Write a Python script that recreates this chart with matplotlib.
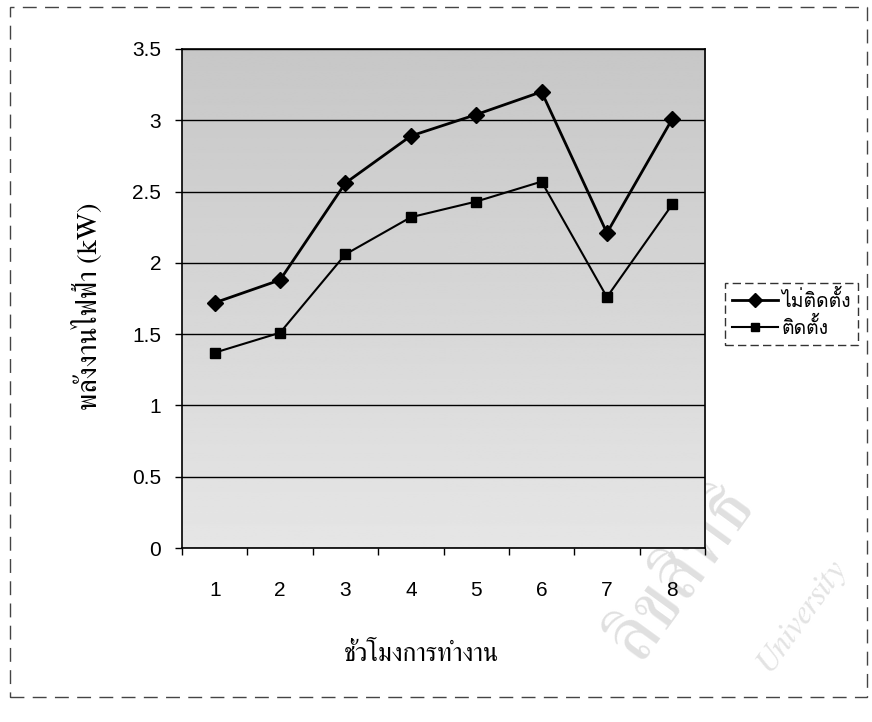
import matplotlib
matplotlib.use("Agg")
import matplotlib.pyplot as plt
import numpy as np
from matplotlib import font_manager
from matplotlib.ft2font import FT2Font
from matplotlib.patches import Rectangle

# ---- data -------------------------------------------------------------
hours = [1, 2, 3, 4, 5, 6, 7, 8]
power_without = [1.72, 1.88, 2.56, 2.89, 3.04, 3.20, 2.21, 3.01]   # ไม่ติดตั้ง
power_with = [1.37, 1.51, 2.06, 2.32, 2.43, 2.57, 1.76, 2.41]      # ติดตั้ง
series_labels = ["ไม่ติดตั้ง", "ติดตั้ง"]
x_title = "ชั่วโมงการทำงาน"
y_title = "พลังงานไฟฟ้า (kW)"
y_ticks = [0, 0.5, 1, 1.5, 2, 2.5, 3, 3.5]
y_tick_labels = ["0", "0.5", "1", "1.5", "2", "2.5", "3", "3.5"]


# ---- fonts: find installed faces that cover Thai ----------------------
def thai_fonts():
    found = []
    seen = set()
    for f in font_manager.fontManager.ttflist:
        if f.name in seen:
            continue
        try:
            cmap = FT2Font(f.fname).get_charmap()
        except Exception:
            continue
        if all(c in cmap for c in (0x0E17, 0x0E31, 0x0E49, 0x0E4C)):
            found.append(f.name)
            seen.add(f.name)
    return found


def pick(names, keys):
    out = []
    for k in keys:
        out += [n for n in names if k in n and n not in out]
    return out


thai = thai_fonts()
title_family = (pick(thai, ["Norasi", "Kinnari", "Laksaman", "Serif"]) or thai) + ["DejaVu Sans"]
legend_family = (pick(thai, ["Loma", "Garuda", "Umpush", "Sans"]) or thai) + ["DejaVu Sans"]
num_family = ["Liberation Sans", "DejaVu Sans"]

plt.rcParams["font.family"] = num_family

# ---- figure -----------------------------------------------------------
W, H, DPI = 872, 722, 100
fig = plt.figure(figsize=(W / DPI, H / DPI), dpi=DPI)
fig.patch.set_facecolor("white")

# faint copyright watermark in the lower right corner (drawn first, underneath)
fig.text(682 / W, 1 - 572 / H, "ลิขสิทธิ์", rotation=54, ha="center", va="center",
         fontsize=56, color="#e0e0e0", family=title_family, zorder=-5)
fig.text(800 / W, 1 - 615 / H, "University", rotation=54, ha="center", va="center",
         fontsize=24, color="#e3e3e3", style="italic", family=title_family, zorder=-5)

left, right, top, bottom = 182, 705, 49, 548
ax = fig.add_axes([left / W, 1 - bottom / H, (right - left) / W, (bottom - top) / H])
ax.patch.set_alpha(0)

# grey plot-area fill, darker towards the top
grad = np.linspace(0.78, 0.90, 256).reshape(-1, 1)
ax.imshow(grad, cmap="gray", vmin=0, vmax=1, aspect="auto",
          extent=[0, 1, 0, 1], transform=ax.transAxes, zorder=0)

ax.plot(hours, power_without, color="black", lw=2.0, marker="D", ms=8,
        mfc="black", mec="black", label=series_labels[0], zorder=3)
ax.plot(hours, power_with, color="black", lw=1.5, marker="s", ms=7,
        mfc="black", mec="black", label=series_labels[1], zorder=3)

ax.set_xlim(0.5, 8.5)
ax.set_ylim(0, 3.5)
ax.set_yticks(y_ticks)
ax.set_yticklabels(y_tick_labels)
ax.grid(True, axis="y", color="black", lw=1.0, zorder=1)
ax.set_axisbelow(False)

# category ticks sit between categories, labels centred on them
ax.set_xticks(np.arange(0.5, 9.0, 1.0))
ax.set_xticklabels([])
ax.set_xticks(hours, minor=True)
ax.set_xticklabels([str(h) for h in hours], minor=True)
ax.tick_params(axis="x", which="major", length=5, width=1, direction="out")
ax.tick_params(axis="x", which="minor", length=0, pad=24, labelsize=15)
ax.tick_params(axis="y", length=5, width=1, direction="out", pad=10, labelsize=15)

for s in ax.spines.values():
    s.set_color("black")
    s.set_linewidth(1.2)

fig.text(87 / W, 1 - 306 / H, y_title, rotation=90, ha="center", va="center",
         fontsize=20.5, family=title_family)
fig.text(421 / W, 1 - 655 / H, x_title, ha="center", va="center",
         fontsize=18.5, family=title_family)

leg = fig.legend(loc="upper left", bbox_to_anchor=(725 / W, 1 - 283 / H),
                 bbox_transform=fig.transFigure, frameon=True, fancybox=False,
                 handlelength=2.4, handletextpad=0.15, borderpad=0.35,
                 labelspacing=0.3, borderaxespad=0, markerscale=0.9,
                 prop={"family": legend_family, "size": 14})
leg.get_frame().set_edgecolor("black")
leg.get_frame().set_linewidth(1.0)
leg.get_frame().set_linestyle((0, (6, 3)))

# outer chart-area border
fig.patches.append(Rectangle((10 / W, 1 - 697 / H), (867 - 10) / W, (697 - 7) / H,
                             transform=fig.transFigure, fill=False,
                             edgecolor="#444444", lw=1.0, ls=(0, (10, 6))))

fig.savefig("out.png", dpi=DPI, facecolor="white")
